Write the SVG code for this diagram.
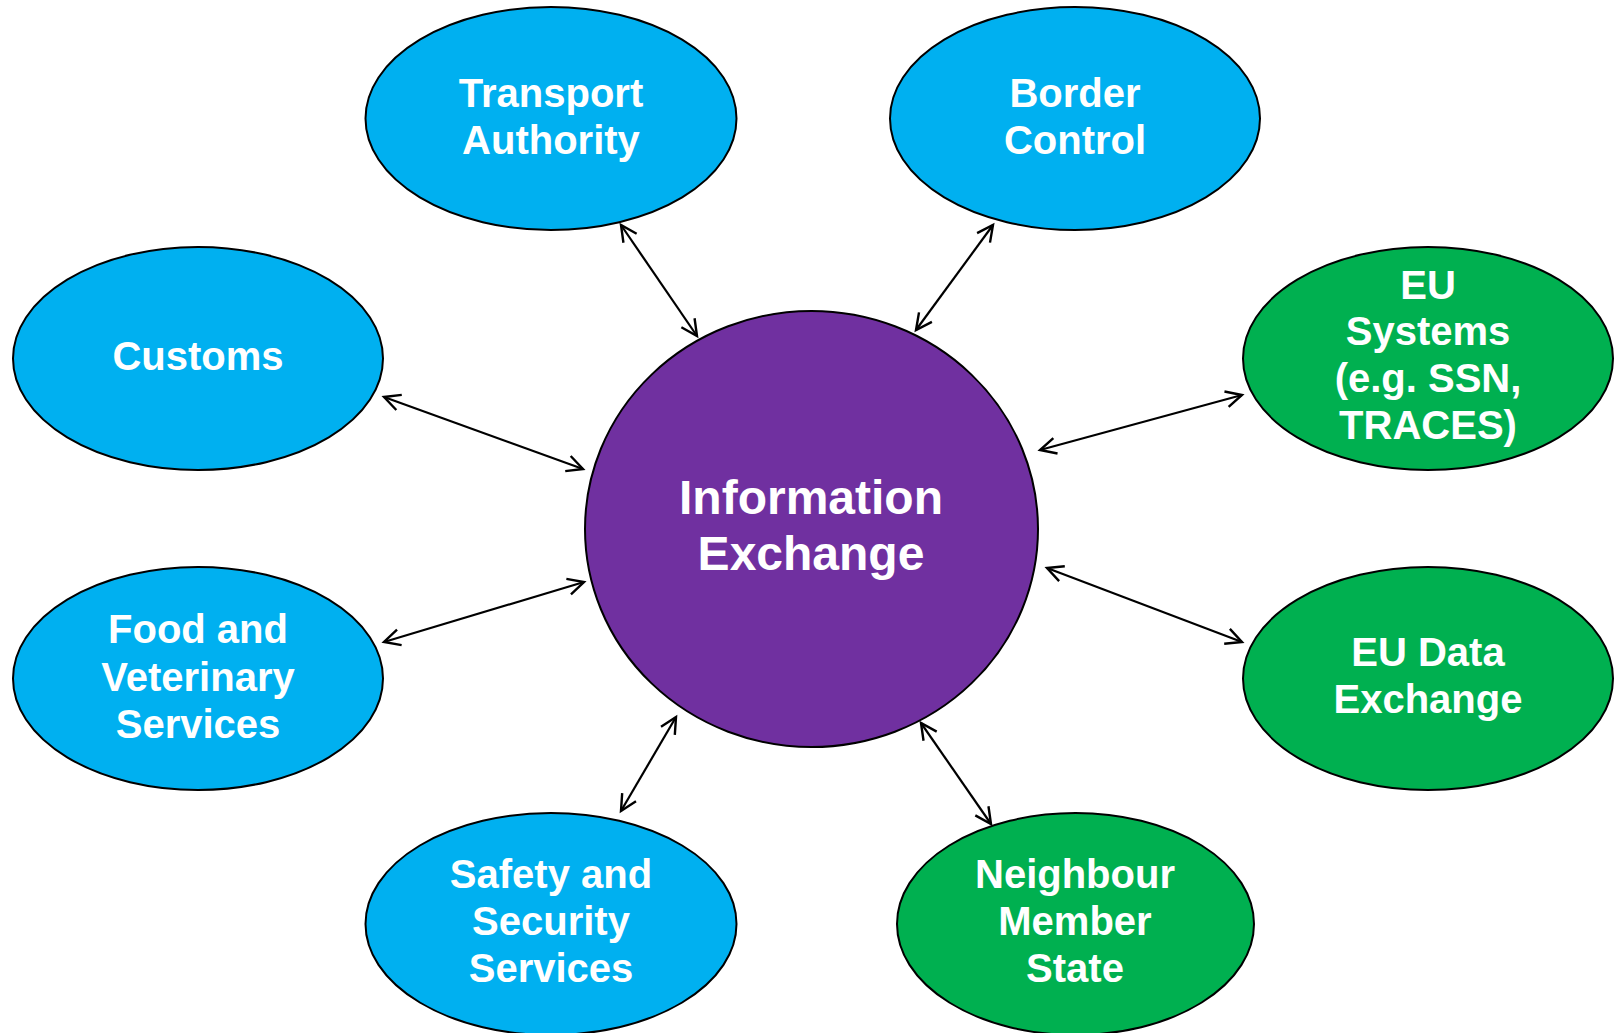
<svg xmlns="http://www.w3.org/2000/svg" width="1615" height="1033" viewBox="0 0 1615 1033">
<defs>
<style>
.n{stroke:#000;stroke-width:2}
.blue{fill:#00B0F0}
.green{fill:#00B050}
.purple{fill:#7030A0}
text{font-family:"Liberation Sans",Arial,sans-serif;font-weight:bold;fill:#fff;text-anchor:middle;font-size:40px}
.big{font-size:48px}
.c line{stroke:#000;stroke-width:2.2;marker-start:url(#a);marker-end:url(#a)}
</style>
<marker id="a" markerUnits="userSpaceOnUse" viewBox="-20 -10 22 20" refX="0" refY="0" markerWidth="22" markerHeight="20" orient="auto-start-reverse" overflow="visible">
<path d="M-16,-8 L0,0 L-16,8" fill="none" stroke="#000" stroke-width="2.4"/>
</marker>
</defs>
<rect width="1615" height="1033" fill="#fff"/>
<g class="c" id="connectors">
<line x1="697" y1="336" x2="621" y2="225"/>
<line x1="916" y1="330" x2="993" y2="225"/>
<line x1="583" y1="469" x2="384" y2="397"/>
<line x1="1040" y1="450" x2="1242" y2="395"/>
<line x1="1047" y1="568" x2="1242" y2="642"/>
<line x1="921" y1="723" x2="991" y2="824"/>
<line x1="584" y1="582" x2="384" y2="642"/>
<line x1="676" y1="717" x2="621" y2="811"/>
</g>
<g id="center">
<ellipse class="n purple" cx="811.5" cy="529" rx="226.5" ry="218"/>
<text class="big" x="811" y="514">Information</text>
<text class="big" x="811" y="570">Exchange</text>
</g>
<g id="transport">
<ellipse class="n blue" cx="551" cy="118.5" rx="185.5" ry="111.5"/>
<text x="551" y="107">Transport</text>
<text x="551" y="154">Authority</text>
</g>
<g id="border">
<ellipse class="n blue" cx="1075" cy="118.5" rx="185" ry="111.5"/>
<text x="1075" y="107">Border</text>
<text x="1075" y="154">Control</text>
</g>
<g id="customs">
<ellipse class="n blue" cx="198" cy="358.5" rx="185" ry="111.5"/>
<text x="198" y="370">Customs</text>
</g>
<g id="eusystems">
<ellipse class="n green" cx="1428" cy="358.5" rx="185" ry="111.5"/>
<text x="1428" y="299">EU</text>
<text x="1428" y="345">Systems</text>
<text x="1428" y="392">(e.g. SSN,</text>
<text x="1428" y="439">TRACES)</text>
</g>
<g id="food">
<ellipse class="n blue" cx="198" cy="678.5" rx="185" ry="111.5"/>
<text x="198" y="643">Food and</text>
<text x="198" y="691">Veterinary</text>
<text x="198" y="738">Services</text>
</g>
<g id="eudata">
<ellipse class="n green" cx="1428" cy="678.5" rx="185" ry="111.5"/>
<text x="1428" y="666">EU Data</text>
<text x="1428" y="713">Exchange</text>
</g>
<g id="safety">
<ellipse class="n blue" cx="551" cy="924" rx="185.5" ry="111"/>
<text x="551" y="888">Safety and</text>
<text x="551" y="935">Security</text>
<text x="551" y="982">Services</text>
</g>
<g id="neighbour">
<ellipse class="n green" cx="1075.5" cy="924" rx="178.5" ry="111"/>
<text x="1075" y="888">Neighbour</text>
<text x="1075" y="935">Member</text>
<text x="1075" y="982">State</text>
</g>
</svg>
